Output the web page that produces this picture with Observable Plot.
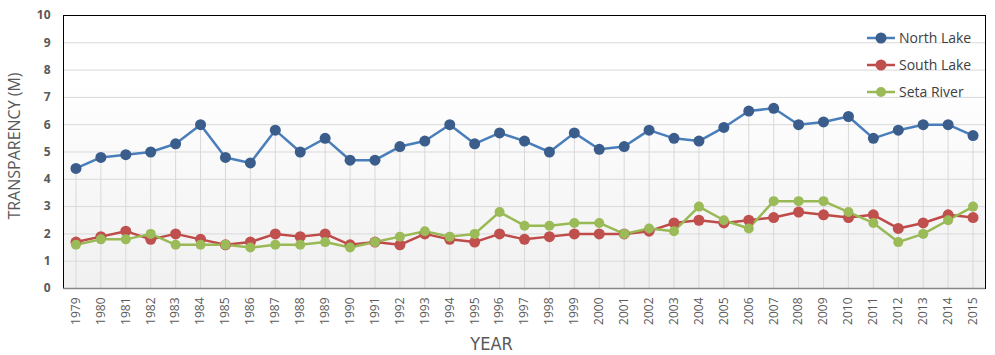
<!DOCTYPE html>
<html>
<head>
<meta charset="utf-8">
<script src="https://cdn.jsdelivr.net/npm/d3@7"></script>
<script src="https://cdn.jsdelivr.net/npm/@observablehq/plot@0.6"></script>
<style>
  body { margin: 0; background: #fff; }
  #wrap { position: relative; width: 995px; height: 355px; }
  #legend { position: absolute; left: 866px; top: 24px; font-family: "Open Sans", sans-serif; font-size: 14px; color: #404040; }
  .row { display: flex; align-items: center; height: 27px; }
  .row svg { margin-right: 3px; }
</style>
</head>
<body>
<div id="wrap"><div id="legend"></div></div>
<script>
const years = ["1979","1980","1981","1982","1983","1984","1985","1986","1987","1988","1989","1990","1991","1992","1993","1994","1995","1996","1997","1998","1999","2000","2001","2002","2003","2004","2005","2006","2007","2008","2009","2010","2011","2012","2013","2014","2015"];
const northLake = [4.4,4.8,4.9,5.0,5.3,6.0,4.8,4.6,5.8,5.0,5.5,4.7,4.7,5.2,5.4,6.0,5.3,5.7,5.4,5.0,5.7,5.1,5.2,5.8,5.5,5.4,5.9,6.5,6.6,6.0,6.1,6.3,5.5,5.8,6.0,6.0,5.6];
const southLake = [1.7,1.9,2.1,1.8,2.0,1.8,1.6,1.7,2.0,1.9,2.0,1.6,1.7,1.6,2.0,1.8,1.7,2.0,1.8,1.9,2.0,2.0,2.0,2.1,2.4,2.5,2.4,2.5,2.6,2.8,2.7,2.6,2.7,2.2,2.4,2.7,2.6];
const setaRiver = [1.6,1.8,1.8,2.0,1.6,1.6,1.6,1.5,1.6,1.6,1.7,1.5,1.7,1.9,2.1,1.9,2.0,2.8,2.3,2.3,2.4,2.4,2.0,2.2,2.1,3.0,2.5,2.2,3.2,3.2,3.2,2.8,2.4,1.7,2.0,2.5,3.0];
const seriesNames = ["North Lake","South Lake","Seta River"];
const lineColors = ["#4a7ebb","#be4b48","#98b954"];
const markerColors = ["#3a5d8c","#c0504d","#9bbb59"];
const markerRadius = [5.5,5.5,5];
const yTicks = [0,1,2,3,4,5,6,7,8,9,10];

const seriesValues = [northLake, southLake, setaRiver];
const rows = seriesNames.flatMap((s, k) => years.map((yr, i) => ({year: yr, series: s, v: seriesValues[k][i], k})));
const northRows = rows.filter(d => d.series === "North Lake");

const chart = Plot.plot({
  width: 995,
  height: 355,
  marginLeft: 63,
  marginRight: 10,
  marginTop: 15,
  marginBottom: 67,
  style: { background: "transparent", fontFamily: "Open Sans, sans-serif", overflow: "visible" },
  x: { type: "point", domain: years, padding: 0.5, label: null },
  y: { domain: [0, 10], label: null },
  r: { type: "identity" },
  color: { domain: seriesNames, range: lineColors },
  marks: [
    Plot.frame({ fill: "url(#bgGrad)", stroke: null }),
    Plot.gridY(yTicks, { stroke: "#d9d9d9", strokeOpacity: 1, strokeWidth: 1 }),
    Plot.ruleX(northRows, { x: "year", y1: 0, y2: "v", stroke: "#d9d9d9", strokeWidth: 1 }),
    Plot.frame({ stroke: "#000", strokeWidth: 1 }),
    Plot.ruleY([0], { stroke: "#868686", strokeWidth: 1.5 }),
    Plot.lineY(rows, { x: "year", y: "v", z: "series", stroke: "series", strokeWidth: 2.5 }),
    Plot.dot(rows, { x: "year", y: "v", fill: d => markerColors[d.k], r: d => markerRadius[d.k], stroke: null }),
    Plot.axisY(yTicks, { tickSize: 0, tickPadding: 13, fontWeight: "bold", fontSize: 12, fill: "#595959", label: null }),
    Plot.axisX(years, { tickSize: 0, tickPadding: 9, tickRotate: -90, fontSize: 12, fill: "#595959", label: null }),
    Plot.text(["TRANSPARENCY (M)"], { frameAnchor: "left", textAnchor: "middle", lineAnchor: "middle", rotate: -90, dx: -49, dy: -6, fontSize: 16, fill: "#595959" }),
    Plot.text(["YEAR"], { frameAnchor: "bottom", lineAnchor: "middle", dx: -33, dy: 56, fontSize: 18, fill: "#595959", fontFamily: "Liberation Sans Narrow, DejaVu Sans Condensed, sans-serif" })
  ]
});

const defs = d3.select(chart).insert("defs", ":first-child");
const grad = defs.append("linearGradient").attr("id", "bgGrad").attr("x1", 0).attr("y1", 0).attr("x2", 0).attr("y2", 1);
grad.append("stop").attr("offset", "0%").attr("stop-color", "#ffffff");
grad.append("stop").attr("offset", "25%").attr("stop-color", "#ffffff");
grad.append("stop").attr("offset", "100%").attr("stop-color", "#f0f0f0");

document.getElementById("wrap").prepend(chart);

const legend = d3.select("#legend");
seriesNames.forEach((name, k) => {
  const row = legend.append("div").attr("class", "row");
  const sw = row.append("svg").attr("width", 30).attr("height", 12);
  sw.append("line").attr("x1", 1).attr("x2", 29).attr("y1", 6).attr("y2", 6).attr("stroke", lineColors[k]).attr("stroke-width", 2.5);
  sw.append("circle").attr("cx", 15).attr("cy", 6).attr("r", markerRadius[k]).attr("fill", markerColors[k]);
  row.append("span").text(name);
});
</script>
</body>
</html>
